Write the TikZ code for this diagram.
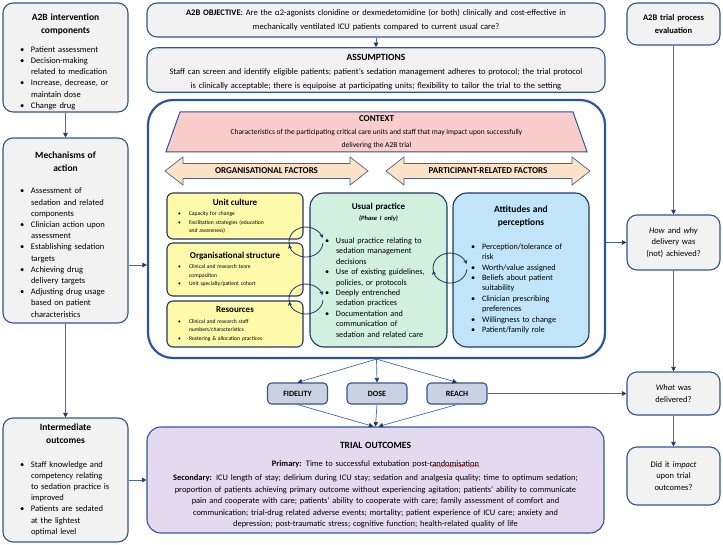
\documentclass[tikz,border=0pt]{standalone}
\usepackage{fontspec}
\setmainfont{Carlito}
\usepackage{tikz}
\usetikzlibrary{arrows.meta,shapes.geometric,shapes.arrows,decorations.pathmorphing}
\usepackage{xcolor}
\definecolor{boxblue}{RGB}{47,85,151}
\definecolor{linkblue}{RGB}{72,104,170}
\definecolor{navy}{RGB}{31,56,100}
\definecolor{boxgray}{RGB}{242,242,242}
\definecolor{pinkfill}{RGB}{250,205,205}
\definecolor{peach}{RGB}{252,226,198}
\definecolor{lemon}{RGB}{255,250,170}
\definecolor{mint}{RGB}{210,240,224}
\definecolor{sky}{RGB}{192,229,248}
\definecolor{slate}{RGB}{202,210,226}
\definecolor{lilac}{RGB}{228,218,239}

% bold centred heading and bullet line with hanging indent
\newcommand{\btitle}[2][9.5]{{\centering\bfseries\fontsize{#1}{13}\selectfont #2\par}}
\newcommand{\bl}[2][14pt]{\par\noindent\hangindent=\dimexpr#1+11pt\relax\hangafter=1\hspace*{#1}\makebox[11pt][l]{\textbullet}{\let\\\newline #2}\par}

\begin{document}
\begin{tikzpicture}[x=1pt,y=-1pt,
  box/.style={draw=boxblue, line width=1.1pt, rounded corners=10pt, inner xsep=3pt, inner ysep=2pt},
  sidebox/.style={box, fill=boxgray, minimum width=125pt, text width=119pt, align=left, font=\fontsize{8.5}{11.2}\selectfont},
  rbox/.style={box, fill=boxgray, minimum width=93pt, text width=87pt, align=center, font=\fontsize{8.5}{11.8}\selectfont},
  topbox/.style={box, fill=boxgray, minimum width=458pt, text width=452pt, align=center, font=\fontsize{8.5}{14}\selectfont},
  orgbox/.style={box, draw=navy, fill=lemon, rounded corners=6pt, minimum width=136pt, text width=130pt, align=left, font=\fontsize{5.6}{8.5}\selectfont},
  factor/.style={double arrow, draw=navy!80, fill=peach, line width=0.7pt, minimum width=28pt, double arrow head extend=5.5pt, double arrow tip angle=76, inner ysep=3pt, inner xsep=2pt, font=\bfseries\fontsize{9}{10}\selectfont},
  measure/.style={box, fill=slate, rounded corners=4pt, minimum width=60pt, minimum height=21pt, font=\bfseries\fontsize{8}{10}\selectfont},
  link/.style={draw=linkblue, line width=0.7pt, -{Triangle[length=4.5pt,width=4.5pt,color=navy]}},
  loop/.style={draw=navy, line width=0.8pt, -{Stealth[length=4pt,width=4pt]}}]
  \useasboundingbox (0,0) rectangle (723,545);

  % left column
  \node[sidebox, minimum height=109pt] (interv) at (65.5,57.5) {\btitle{\rule{0pt}{15pt}A2B intervention\\components}\vspace{8pt}
    \bl{Patient assessment}\bl{Decision-making\\related to medication}\bl{Increase,  decrease, or\\maintain dose}\bl{Change drug}};
  \node[sidebox, minimum height=185pt] (mech) at (65.5,230.5) {\btitle{\rule{0pt}{15pt}Mechanisms of\\action}\vspace{11pt}
    \bl{Assessment of\\sedation and related\\components}\bl{Clinician action upon\\assessment}\bl{Establishing sedation\\targets}\bl{Achieving drug\\delivery targets}\bl{Adjusting drug usage\\based on patient\\characteristics}};
  \node[sidebox, minimum height=124pt] (inter) at (65.5,480) {\btitle{Intermediate\\outcomes}\vspace{12pt}
    \bl{Staff knowledge and\\competency relating\\to sedation practice is\\improved}\bl{Patients are sedated\\at the lightest\\optimal level}};

  % objective and assumptions
  \node[topbox, minimum height=34pt] (obj) at (376,20) {\textbf{A2B OBJECTIVE}: Are the α2-agonists clonidine or dexmedetomidine (or both) clinically and cost-effective in\\mechanically ventilated ICU patients compared to current usual care?};
  \node[topbox, minimum height=42pt] (assum) at (376,70) {\textbf{\fontsize{9.5}{14}\selectfont\rule{0pt}{11pt}ASSUMPTIONS}\\Staff can screen and identify eligible patients; patient’s sedation management adheres to protocol; the trial protocol\\is clinically acceptable; there is equipoise at participating units; flexibility to tailor the trial to the setting};

  % context frame
  \node[draw=boxblue, fill=white, line width=2.2pt, rounded corners=25pt, minimum width=457pt, minimum height=258pt] (context) at (376.5,229) {};
  \node[trapezium, trapezium stretches=true, trapezium left angle=73, trapezium right angle=73, draw=boxblue, fill=pinkfill, line width=1pt, minimum width=423pt, minimum height=40pt, inner ysep=1pt, align=center, font=\fontsize{7.5}{13}\selectfont] (ctxhead) at (376.5,132) {\textbf{\fontsize{9}{13}\selectfont CONTEXT}\\Characteristics of the participating critical care units and staff that may impact upon successfully\\delivering the A2B trial};
  \node[factor, minimum height=203pt] (orgfac) at (266.5,171) {ORGANISATIONAL FACTORS};
  \node[factor, minimum height=204pt] (partfac) at (488,171) {PARTICIPANT-RELATED FACTORS};

  % organisational factors
  \node[orgbox, minimum height=46pt] (culture) at (235,216) {\btitle[9]{Unit culture}\vspace{2pt}
    \bl[8pt]{Capacity for change}\bl[8pt]{Facilitation strategies (education\\and awareness)}};
  \node[orgbox, minimum height=53pt] (struct) at (235,269.5) {\btitle[9]{Organisational structure}\vspace{2pt}
    \bl[8pt]{Clinical and research team\\composition}\bl[8pt]{Unit specialty/patient cohort}};
  \node[orgbox, minimum height=46pt] (resource) at (235,324) {\btitle[9]{Resources}\vspace{2pt}
    \bl[8pt]{Clinical and research staff\\numbers/characteristics}\bl[8pt]{Rostering \& allocation practices}};

  % usual practice and participant factors
  \node[box, draw=navy, fill=mint, rounded corners=14pt, minimum width=137pt, minimum height=154pt, text width=131pt, align=left, font=\fontsize{8.2}{10.4}\selectfont] (usual) at (378.5,270) {\btitle[9]{Usual practice}{\centering\bfseries\itshape\fontsize{6.5}{11}\selectfont (Phase I only)\par}\vspace{13pt}
    \bl[12pt]{Usual practice relating to\\sedation management\\decisions}\bl[12pt]{Use of existing guidelines,\\policies, or protocols}\bl[12pt]{Deeply entrenched\\sedation practices}\bl[12pt]{Documentation and\\communication of\\sedation and related care}};
  \node[box, draw=navy, fill=sky, rounded corners=14pt, minimum width=136pt, minimum height=154pt, text width=130pt, align=left, font=\fontsize{8.2}{10.4}\selectfont] (attit) at (521,270) {\btitle{Attitudes and\\perceptions}\vspace{13pt}
    \bl[15pt]{Perception/tolerance of\\risk}\bl[15pt]{Worth/value assigned}\bl[15pt]{Beliefs about patient\\suitability}\bl[15pt]{Clinician prescribing\\preferences}\bl[15pt]{Willingness to change}\bl[15pt]{Patient/family role}};

  % feedback loops between the boxes
  \coordinate (loopa) at (306,242);
  \coordinate (loopb) at (306,299);
  \coordinate (loopc) at (450,268);
  \foreach \c in {loopa,loopb,loopc} {
    \draw[loop] (\c) ++(200:17pt and 15pt) arc[start angle=200, end angle=15, x radius=17pt, y radius=15pt];
    \draw[loop] (\c) ++(-5:17pt and 15pt) arc[start angle=-5, end angle=-170, x radius=17pt, y radius=15pt];
  }

  % fidelity, dose, reach
  \node[measure] (fidelity) at (297.5,393.5) {FIDELITY};
  \node[measure] (dose) at (377,393.5) {DOSE};
  \node[measure] (reach) at (457,393.5) {REACH};

  % trial outcomes
  \node[box, fill=lilac, rounded corners=14pt, minimum width=457pt, minimum height=106pt, text width=451pt, align=center, font=\fontsize{8.4}{11.6}\selectfont] (outcomes) at (375.5,480) {\textbf{\fontsize{9.5}{12}\selectfont\rule{0pt}{17pt}TRIAL OUTCOMES}\\[6pt]
    \textbf{Primary:} Time to successful extubation post-randomisation\\[2.5pt]
    \textbf{Secondary:} ICU length of stay; delirium during ICU stay; sedation and analgesia quality; time to optimum sedation;\\proportion of patients achieving primary outcome without experiencing agitation; patients’ ability to communicate\\pain and cooperate with care; patients’ ability to cooperate with care; family assessment of comfort and\\communication; trial-drug related adverse events; mortality; patient experience of ICU care; anxiety and\\depression; post-traumatic stress; cognitive function; health-related quality of life};
  % spelling squiggle under the last word of the primary outcome
  \coordinate (wavea) at (431,466);
  \coordinate (waveb) at (480,466);
  \draw[red, line width=0.4pt, decorate, decoration={snake, amplitude=0.6pt, segment length=2.5pt}] (wavea) -- (waveb);

  % process evaluation column
  \node[rbox, minimum height=42pt, font=\bfseries\fontsize{8.5}{12.5}\selectfont] (procev) at (673.5,24) {A2B trial process\\evaluation};
  \node[rbox, minimum height=55pt] (how) at (673.5,242.5) {\textit{How} and \textit{why}\\delivery was\\(not) achieved?};
  \node[rbox, minimum height=43pt] (what) at (673.5,393.5) {\textit{What} was\\delivered?};
  \node[rbox, minimum height=58pt] (didit) at (673.5,476) {Did it \textit{impact}\\upon trial\\outcomes?};

  % connectors
  \draw[link] (interv) -- (mech);
  \draw[link] (mech) -- (inter);
  \draw[link] (mech.east |- 0,265) -- (context.west |- 0,265);
  \draw[link] (inter) -- (outcomes);
  \draw[link] (obj) -- (assum);
  \draw[link] (context.south) -- (fidelity.north);
  \draw[link] (context.south) -- (dose.north);
  \draw[link] (context.south) -- (reach.north);
  \draw[link] (fidelity.south) -- ([xshift=-2pt]outcomes.north);
  \draw[link] (dose.south) -- (outcomes.north);
  \draw[link] (reach.south) -- ([xshift=3pt]outcomes.north);
  \draw[link] (procev) -- (how);
  \draw[link] (context.east |- how.west) -- (how.west);
  \draw[link] (how) -- (what);
  \draw[link] (reach) -- (what);
  \draw[link] (what) -- (didit);
\end{tikzpicture}
\end{document}
